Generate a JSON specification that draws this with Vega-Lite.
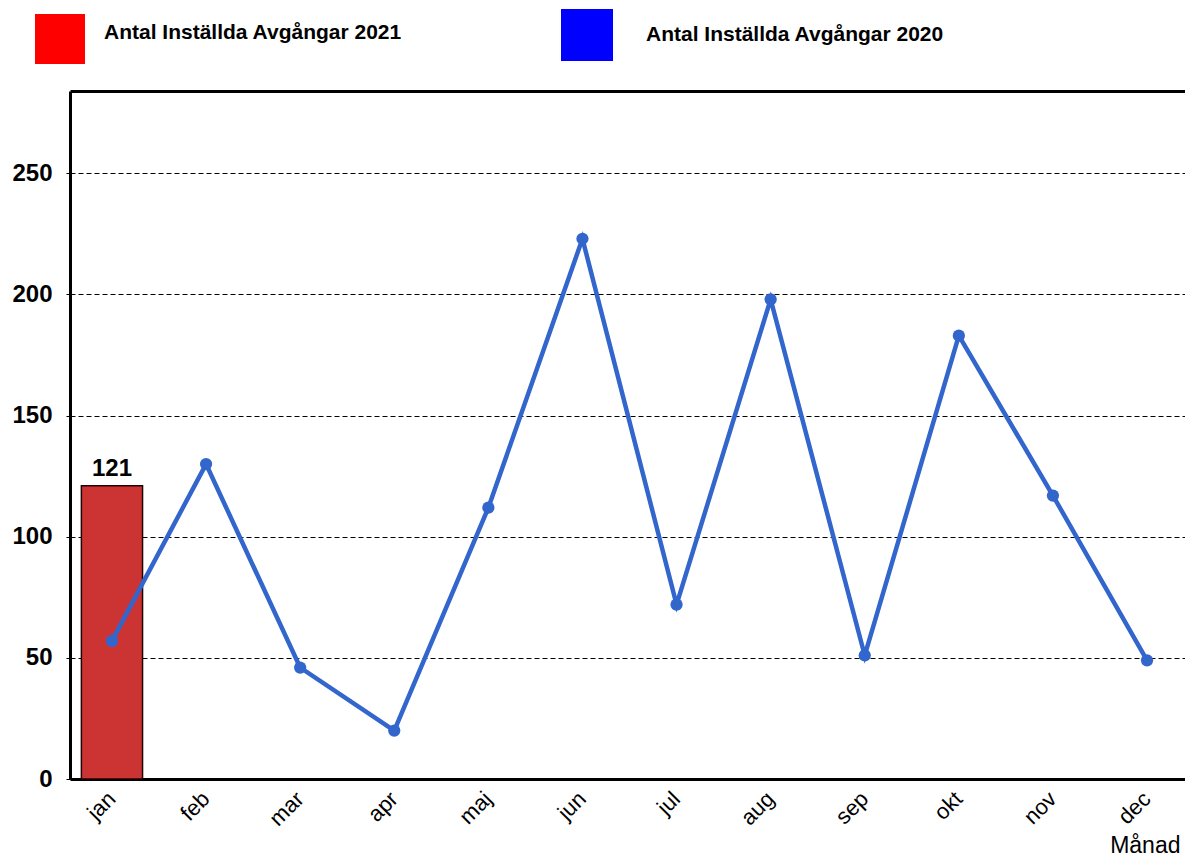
{
  "$schema": "https://vega.github.io/schema/vega-lite/v6.json",
  "width": 1115,
  "height": 688,
  "autosize": {"type": "none"},
  "padding": {"left": 70, "top": 91, "right": 0, "bottom": 77},
  "background": "white",
  "config": {"font": "Liberation Sans", "view": {"stroke": null}},
  "datasets": {
    "main": [
      {"month": "jan", "y2020": 57, "y2021": 121},
      {"month": "feb", "y2020": 130, "y2021": null},
      {"month": "mar", "y2020": 46, "y2021": null},
      {"month": "apr", "y2020": 20, "y2021": null},
      {"month": "maj", "y2020": 112, "y2021": null},
      {"month": "jun", "y2020": 223, "y2021": null},
      {"month": "jul", "y2020": 72, "y2021": null},
      {"month": "aug", "y2020": 198, "y2021": null},
      {"month": "sep", "y2020": 51, "y2021": null},
      {"month": "okt", "y2020": 183, "y2021": null},
      {"month": "nov", "y2020": 117, "y2021": null},
      {"month": "dec", "y2020": 49, "y2021": null}
    ],
    "leg21": [{"s21": "Antal Inställda Avgångar 2021"}],
    "leg20": [{"s20": "Antal Inställda Avgångar 2020"}]
  },
  "layer": [
    {
      "data": {"name": "main"},
      "transform": [{"filter": "datum.y2021 != null"}],
      "mark": {"type": "bar", "fill": "#CC3333", "stroke": "#220000", "strokeWidth": 1.5},
      "encoding": {
        "x": {
          "field": "month", "type": "nominal",
          "scale": {"domain": ["jan","feb","mar","apr","maj","jun","jul","aug","sep","okt","nov","dec"], "paddingInner": 0.35, "paddingOuter": 0.121, "range": [0, 1119]},
          "axis": {
            "title": "Månad", "titleFontSize": 23, "titleFontWeight": "normal", "titleColor": "black",
            "titleX": 1110, "titleY": 73, "titleAlign": "right", "titleAnchor": null, "titleBaseline": "alphabetic",
            "labelAngle": -45, "labelAlign": "right", "labelBaseline": "middle", "labelFontSize": 22, "labelColor": "black", "labelPadding": 16,
            "ticks": false, "domainColor": "black", "domainWidth": 3, "grid": false
          }
        },
        "y": {
          "field": "y2021", "type": "quantitative",
          "scale": {"domain": [0, 284], "nice": false, "zero": true},
          "axis": {
            "title": null, "values": [0, 50, 100, 150, 200, 250, 284],
            "labelExpr": "datum.value == 284 ? '' : datum.label",
            "labelFontSize": 24, "labelFontWeight": "bold", "labelColor": "black", "labelPadding": 14,
            "tickSize": 4, "tickColor": "black", "tickWidth": 1,
            "tickOpacity": {"condition": {"test": "datum.value == 284", "value": 0}, "value": 1},
            "domainColor": "black", "domainWidth": 3,
            "grid": true, "gridColor": "black", "gridOpacity": 1,
            "gridDash": {"condition": {"test": "datum.value == 284", "value": []}, "value": [5, 3]},
            "gridWidth": {"condition": {"test": "datum.value == 284", "value": 3}, "value": 1}
          }
        }
      }
    },
    {
      "data": {"name": "main"},
      "transform": [{"filter": "datum.y2021 != null"}],
      "mark": {"type": "text", "fontSize": 24, "fontWeight": "bold", "color": "black", "baseline": "alphabetic", "dy": -10},
      "encoding": {
        "x": {"field": "month", "type": "nominal"},
        "y": {"field": "y2021", "type": "quantitative"},
        "text": {"field": "y2021", "type": "quantitative"}
      }
    },
    {
      "data": {"name": "main"},
      "mark": {"type": "line", "color": "#3366CC", "strokeWidth": 4.5, "point": {"filled": true, "size": 150, "color": "#3366CC", "opacity": 1}},
      "encoding": {
        "x": {"field": "month", "type": "nominal"},
        "y": {"field": "y2020", "type": "quantitative"}
      }
    },
    {
      "data": {"name": "leg21"},
      "mark": {"type": "point", "filled": true, "opacity": 0, "shape": "square"},
      "encoding": {
        "color": {
          "field": "s21", "type": "nominal",
          "scale": {"range": ["#FF0000"]},
          "legend": {
            "title": null, "orient": "none", "legendX": -35, "legendY": -77, "padding": 0,
            "symbolType": "square", "symbolSize": 2500, "symbolOpacity": 1, "symbolStrokeWidth": 0,
            "labelFontSize": 21, "labelFontWeight": "bold", "labelColor": "black", "labelOffset": 19,
            "labelLimit": 600, "labelBaseline": "alphabetic"
          }
        }
      }
    },
    {
      "data": {"name": "leg20"},
      "mark": {"type": "point", "filled": true, "opacity": 0, "shape": "square"},
      "encoding": {
        "fill": {
          "field": "s20", "type": "nominal",
          "scale": {"range": ["#0000FF"]},
          "legend": {
            "title": null, "orient": "none", "legendX": 491, "legendY": -82, "padding": 0,
            "symbolType": "square", "symbolSize": 2704, "symbolOpacity": 1, "symbolStrokeWidth": 0,
            "labelFontSize": 21, "labelFontWeight": "bold", "labelColor": "black", "labelOffset": 33,
            "labelLimit": 600, "labelBaseline": "middle"
          }
        }
      }
    }
  ]
}
